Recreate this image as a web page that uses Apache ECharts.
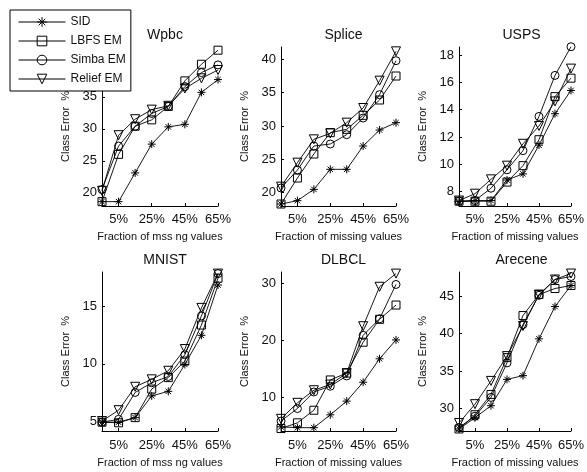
<!DOCTYPE html>
<html>
<head>
<meta charset="utf-8">
<script src="https://cdn.jsdelivr.net/npm/echarts@6/dist/echarts.min.js"></script>
<style>html,body{margin:0;padding:0;background:#fff}#c{width:587px;height:472px}</style>
</head>
<body>
<div id="c"></div>
<script>
// ---- data ----
var categories = ['0%', '5%', '15%', '25%', '35%', '45%', '55%', '65%'];
var seriesNames = ['SID', 'LBFS EM', 'Simba EM', 'Relief EM'];
var plotTitles = ['Wpbc', 'Splice', 'USPS', 'MNIST', 'DLBCL', 'Arecene'];
var xNames = ['Fraction of mss ng values', 'Fraction of missing values', 'Fraction of missing values',
              'Fraction of mss ng values', 'Fraction of missing values', 'Fraction of missing values'];
var yName = 'Class Error  %';

var wpbcSID    = [18.6, 18.6, 23.1, 27.6, 30.3, 30.7, 35.7, 37.7];
var wpbcLBFS   = [18.6, 26.0, 30.4, 31.4, 33.5, 37.5, 40.1, 42.3];
var wpbcSimba  = [20.5, 27.3, 30.4, 32.4, 33.5, 36.6, 38.8, 40.0];
var wpbcRelief = [20.3, 29.0, 31.5, 33.0, 33.6, 36.3, 37.9, 39.2];

var spliceSID    = [18.3, 18.8, 20.5, 23.5, 23.5, 27.0, 29.4, 30.5];
var spliceLBFS   = [18.3, 22.2, 25.8, 29.0, 29.5, 31.6, 33.9, 37.5];
var spliceSimba  = [20.7, 23.4, 27.0, 27.3, 28.7, 31.2, 34.7, 39.8];
var spliceRelief = [20.9, 24.5, 28.0, 28.9, 30.5, 32.7, 36.8, 41.2];

var uspsSID    = [7.27, 7.35, 7.35, 8.85, 9.3, 11.4, 13.7, 15.4];
var uspsLBFS   = [7.3, 7.3, 7.3, 8.7, 9.9, 11.8, 14.95, 16.3];
var uspsSimba  = [7.3, 7.35, 8.25, 9.6, 11.0, 13.5, 16.5, 18.6];
var uspsRelief = [7.35, 7.85, 8.9, 9.9, 11.5, 12.8, 14.6, 17.0];

var mnistSID    = [4.9, 4.9, 5.3, 7.2, 7.6, 9.95, 12.5, 16.9];
var mnistLBFS   = [4.9, 4.85, 5.3, 7.8, 8.8, 10.25, 13.4, 17.5];
var mnistSimba  = [4.9, 5.15, 7.5, 8.35, 8.9, 10.8, 14.2, 17.9];
var mnistRelief = [5.0, 5.95, 8.0, 8.65, 9.4, 11.3, 14.9, 17.9];

var dlbclSID    = [4.9, 4.75, 4.75, 7.0, 9.4, 12.7, 16.8, 20.1];
var dlbclLBFS   = [4.6, 5.6, 7.8, 13.1, 14.3, 19.7, 23.7, 26.2];
var dlbclSimba  = [5.9, 8.1, 11.0, 12.0, 13.8, 20.9, 23.8, 29.8];
var dlbclRelief = [6.3, 9.1, 11.3, 12.3, 14.3, 22.5, 29.4, 31.7];

var areceneSID    = [27.3, 28.8, 30.4, 33.9, 34.4, 39.3, 43.6, 46.4];
var areceneLBFS   = [27.3, 29.2, 31.9, 36.8, 42.4, 45.2, 46.0, 46.4];
var areceneSimba  = [27.5, 29.0, 31.5, 36.1, 41.2, 45.1, 47.2, 47.6];
var areceneRelief = [28.1, 30.6, 33.7, 37.0, 41.0, 45.2, 47.2, 48.0];

var yTicks = [
  [20, 25, 30, 35, 40],
  [20, 25, 30, 35, 40],
  [8, 10, 12, 14, 16, 18],
  [5, 10, 15],
  [10, 20, 30],
  [30, 35, 40, 45]
];
var yRanges = [[17.92, 42.8], [18.0, 41.85], [6.95, 18.58], [4.13, 18.04], [4.17, 31.98], [27.03, 48.2]];

var plotData = [
  [wpbcSID, wpbcLBFS, wpbcSimba, wpbcRelief],
  [spliceSID, spliceLBFS, spliceSimba, spliceRelief],
  [uspsSID, uspsLBFS, uspsSimba, uspsRelief],
  [mnistSID, mnistLBFS, mnistSimba, mnistRelief],
  [dlbclSID, dlbclLBFS, dlbclSimba, dlbclRelief],
  [areceneSID, areceneLBFS, areceneSimba, areceneRelief]
];

// ---- layout / style ----
var FONT = 'Liberation Sans, Arial, sans-serif';
var TXT = '#111';
var colLeft = [102, 281, 459];
var colWidth = [116, 115, 115];
var rowTop = [47, 272];
var rowHeight = 159;
var symbols = [
  'path://M5,0L5,10M0,5L10,5M1.6,1.6L8.4,8.4M1.6,8.4L8.4,1.6',
  'rect', 'circle', 'triangle'
];
var symSizes = [8, 8, 8, 9];
var symRot = [0, 0, 0, 180];

var grids = [], xAxes = [], yAxes = [], series = [], titles = [];
for (var p = 0; p < 6; p++) {
  var c = p % 3, r = Math.floor(p / 3);
  grids.push({left: colLeft[c], width: colWidth[c], top: rowTop[r], height: rowHeight, containLabel: false});
  titles.push({
    text: plotTitles[p], left: colLeft[c] + colWidth[c] / 2, top: r === 0 ? 23 : 248, textAlign: 'center',
    textStyle: {fontFamily: FONT, fontSize: 14, fontWeight: 'normal', color: TXT}
  });
  xAxes.push({
    type: 'category', gridIndex: p, data: categories, boundaryGap: false,
    name: xNames[p], nameLocation: 'middle', nameGap: r === 0 ? 25 : 26,
    nameTextStyle: {fontFamily: FONT, fontSize: 11, color: TXT},
    axisLine: {lineStyle: {color: '#000', width: 1}},
    axisTick: {inside: true, length: 3, lineStyle: {color: '#000'}, interval: function (i) { return i % 2 === 1; }},
    axisLabel: {fontFamily: FONT, fontSize: 13, color: TXT, margin: r === 0 ? 7 : 8,
                interval: function (i) { return i % 2 === 1; }},
    splitLine: {show: false}
  });
  yAxes.push({
    type: 'value', gridIndex: p, min: yRanges[p][0], max: yRanges[p][1],
    name: yName, nameLocation: 'middle', nameGap: 31, nameRotate: 90,
    nameTextStyle: {fontFamily: FONT, fontSize: 11, color: TXT},
    axisLine: {show: true, lineStyle: {color: '#000', width: 1}},
    axisTick: {show: true, inside: true, length: 3, lineStyle: {color: '#000'}, customValues: yTicks[p]},
    axisLabel: {fontFamily: FONT, fontSize: 13, color: TXT, margin: 5, customValues: yTicks[p]},
    splitLine: {show: false}
  });
  for (var s = 0; s < 4; s++) {
    series.push({
      type: 'line', name: seriesNames[s], xAxisIndex: p, yAxisIndex: p,
      data: plotData[p][s], clip: false,
      symbol: symbols[s], symbolSize: symSizes[s], symbolRotate: symRot[s], showAllSymbol: true,
      lineStyle: {color: '#000', width: 0.9},
      itemStyle: {color: 'transparent', borderColor: '#000', borderWidth: 1},
      emphasis: {disabled: true}
    });
  }
}

var chart = echarts.init(document.getElementById('c'), null, {renderer: 'canvas'});
chart.setOption({
  animation: false,
  backgroundColor: '#fff',
  title: titles,
  legend: {
    data: seriesNames, orient: 'vertical', left: 10, top: 10,
    padding: [6, 5, 6, 8], itemGap: 7, itemWidth: 47, itemHeight: 12,
    backgroundColor: '#fff', borderColor: '#000', borderWidth: 1, borderRadius: 0,
    lineStyle: {width: 1, color: '#000'},
    itemStyle: {color: 'transparent', borderColor: '#000', borderWidth: 1},
    textStyle: {fontFamily: FONT, fontSize: 12, color: TXT},
    selectedMode: false
  },
  grid: grids, xAxis: xAxes, yAxis: yAxes, series: series
});
</script>
</body>
</html>
